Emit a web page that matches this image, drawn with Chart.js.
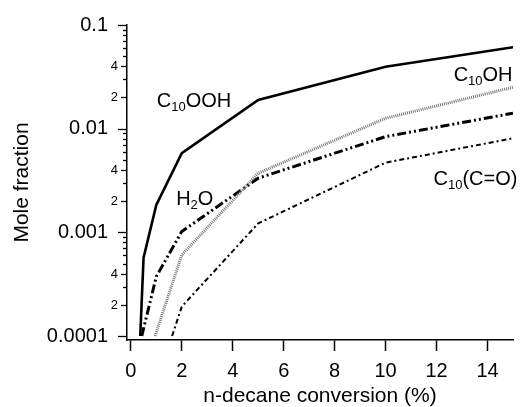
<!DOCTYPE html>
<html>
<head>
<meta charset="utf-8">
<script src="https://cdn.jsdelivr.net/npm/chart.js@4.4.0/dist/chart.umd.min.js"></script>
<style>
  html, body { margin: 0; padding: 0; background: #fff; }
  canvas { display: block; }
</style>
</head>
<body>
<canvas id="chart" width="523" height="407"></canvas>
<script>
// values (x = n-decane conversion %, y = mole fraction)
const oohX = [0.37, 0.5, 1, 2, 5, 10, 15];
const oohY = [0.0001, 0.00057, 0.00184, 0.0058, 0.0189, 0.0396, 0.061];
const ohX = [0.95, 2, 5, 10, 15];
const ohY = [0.0001, 0.000605, 0.00372, 0.0126, 0.0251];
const waterX = [0.43, 1, 2, 5, 10, 15];
const waterY = [0.0001, 0.000374, 0.00102, 0.00333, 0.00838, 0.0141];
const ketoX = [1.62, 2, 5, 10, 15];
const ketoY = [0.0001, 0.000192, 0.00122, 0.0047, 0.00808];

const xTicks = [0, 2, 4, 6, 8, 10, 12, 14];
const yMajorTicks = [0.0001, 0.001, 0.01, 0.1];
const yMajorLabels = ['0.0001', '0.001', '0.01', '0.1'];
const yMinorSteps = [2, 3, 4, 5, 6, 7, 8, 9];
const yMinorLabelled = [2, 4];

// series names, split into [text, isSubscript]
const oohName = [['C', 0], ['10', 1], ['OOH', 0]];
const ohName = [['C', 0], ['10', 1], ['OH', 0]];
const waterName = [['H', 0], ['2', 1], ['O', 0]];
const ketoName = [['C', 0], ['10', 1], ['(C=O)', 0]];

const FONT = "'Liberation Sans', Arial, sans-serif";

function toPoints(xs, ys) {
    return xs.map((x, i) => ({ x: x, y: ys[i] }));
}

function drawName(ctx, parts, x, y) {
    let cx = x;
    parts.forEach(([txt, sub]) => {
        ctx.font = (sub ? '13px ' : '20px ') + FONT;
        ctx.fillText(txt, cx, sub ? y + 4 : y);
        cx += ctx.measureText(txt).width;
    });
}

const extrasPlugin = {
    id: 'extras',
    afterDraw(chart) {
        const ctx = chart.ctx;
        const yScale = chart.scales.y;
        const xScale = chart.scales.x;
        const left = chart.chartArea.left;

        ctx.save();
        ctx.strokeStyle = '#000';
        ctx.fillStyle = '#000';
        ctx.lineWidth = 1.3;

        // y tick marks, decades long, minors short
        yMajorTicks.forEach((v, i) => {
            const py = Math.round(yScale.getPixelForValue(v)) + 0.5;
            ctx.beginPath();
            ctx.moveTo(left - 9, py);
            ctx.lineTo(left, py);
            ctx.stroke();
            if (i == yMajorTicks.length - 1) return;
            yMinorSteps.forEach(m => {
                const pm = Math.round(yScale.getPixelForValue(v * m)) + 0.5;
                const len = yMinorLabelled.includes(m) ? 6 : 4;
                ctx.beginPath();
                ctx.moveTo(left - len, pm);
                ctx.lineTo(left, pm);
                ctx.stroke();
                if (yMinorLabelled.includes(m)) {
                    ctx.font = '13px ' + FONT;
                    ctx.textAlign = 'right';
                    ctx.textBaseline = 'middle';
                    ctx.fillText(String(m), left - 9, pm);
                }
            });
        });

        // series labels
        ctx.textAlign = 'left';
        ctx.textBaseline = 'alphabetic';
        const place = (parts, x, y) => drawName(ctx, parts, xScale.getPixelForValue(x), yScale.getPixelForValue(y));
        place(oohName, 1.02, 0.0161);
        place(ohName, 12.67, 0.029);
        place(waterName, 1.78, 0.00184);
        place(ketoName, 11.88, 0.00286);
        ctx.restore();
    }
};

new Chart(document.getElementById('chart'), {
    type: 'line',
    data: {
        datasets: [
            {
                label: 'C10OOH',
                data: toPoints(oohX, oohY),
                borderColor: '#000',
                borderWidth: 2.6
            },
            {
                label: 'C10OH',
                data: toPoints(ohX, ohY),
                borderColor: '#777',
                borderWidth: 3,
                borderDash: [1, 1]
            },
            {
                label: 'H2O',
                data: toPoints(waterX, waterY),
                borderColor: '#000',
                borderWidth: 3,
                borderDash: [9, 3, 2, 3, 2, 3]
            },
            {
                label: 'C10(C=O)',
                data: toPoints(ketoX, ketoY),
                borderColor: '#000',
                borderWidth: 2,
                borderDash: [5, 3, 2, 3]
            }
        ]
    },
    options: {
        responsive: false,
        animation: false,
        devicePixelRatio: 1,
        layout: { padding: { top: 25, right: 10, left: 0, bottom: 0 } },
        elements: {
            point: { radius: 0 },
            line: { tension: 0, fill: false }
        },
        plugins: {
            legend: { display: false },
            tooltip: { enabled: false }
        },
        scales: {
            x: {
                type: 'linear',
                min: -0.15,
                max: 15,
                afterBuildTicks: (scale) => {
                    scale.ticks = xTicks.map(v => ({ value: v }));
                },
                afterFit: (scale) => {
                    scale.height = 67;
                    scale.paddingLeft = 0;
                    scale.paddingRight = 0;
                },
                border: { display: true, color: '#000', width: 1.5 },
                grid: {
                    display: true,
                    drawOnChartArea: false,
                    drawTicks: true,
                    tickLength: 11,
                    tickColor: '#000',
                    tickWidth: 1.5
                },
                ticks: {
                    color: '#000',
                    font: { family: FONT, size: 20 },
                    padding: 8,
                    maxRotation: 0
                },
                title: {
                    display: true,
                    text: 'n-decane conversion (%)',
                    color: '#000',
                    font: { family: FONT, size: 21, lineHeight: 1 },
                    padding: { top: 0, bottom: 0 }
                }
            },
            y: {
                type: 'logarithmic',
                min: 0.0000915,
                max: 0.1,
                afterBuildTicks: (scale) => {
                    scale.ticks = yMajorTicks.map(v => ({ value: v }));
                },
                afterFit: (scale) => {
                    scale.width = 127;
                    scale.paddingTop = 0;
                    scale.paddingBottom = 0;
                },
                border: { display: true, color: '#000', width: 1.5 },
                grid: { display: false, drawTicks: false },
                ticks: {
                    color: '#000',
                    font: { family: FONT, size: 20 },
                    padding: 19,
                    callback: (value) => {
                        const i = yMajorTicks.indexOf(value);
                        return i >= 0 ? yMajorLabels[i] : '';
                    }
                },
                title: {
                    display: true,
                    text: 'Mole fraction',
                    color: '#000',
                    font: { family: FONT, size: 21 },
                    padding: { top: 10, bottom: 0 }
                }
            }
        }
    },
    plugins: [extrasPlugin]
});
</script>
</body>
</html>
